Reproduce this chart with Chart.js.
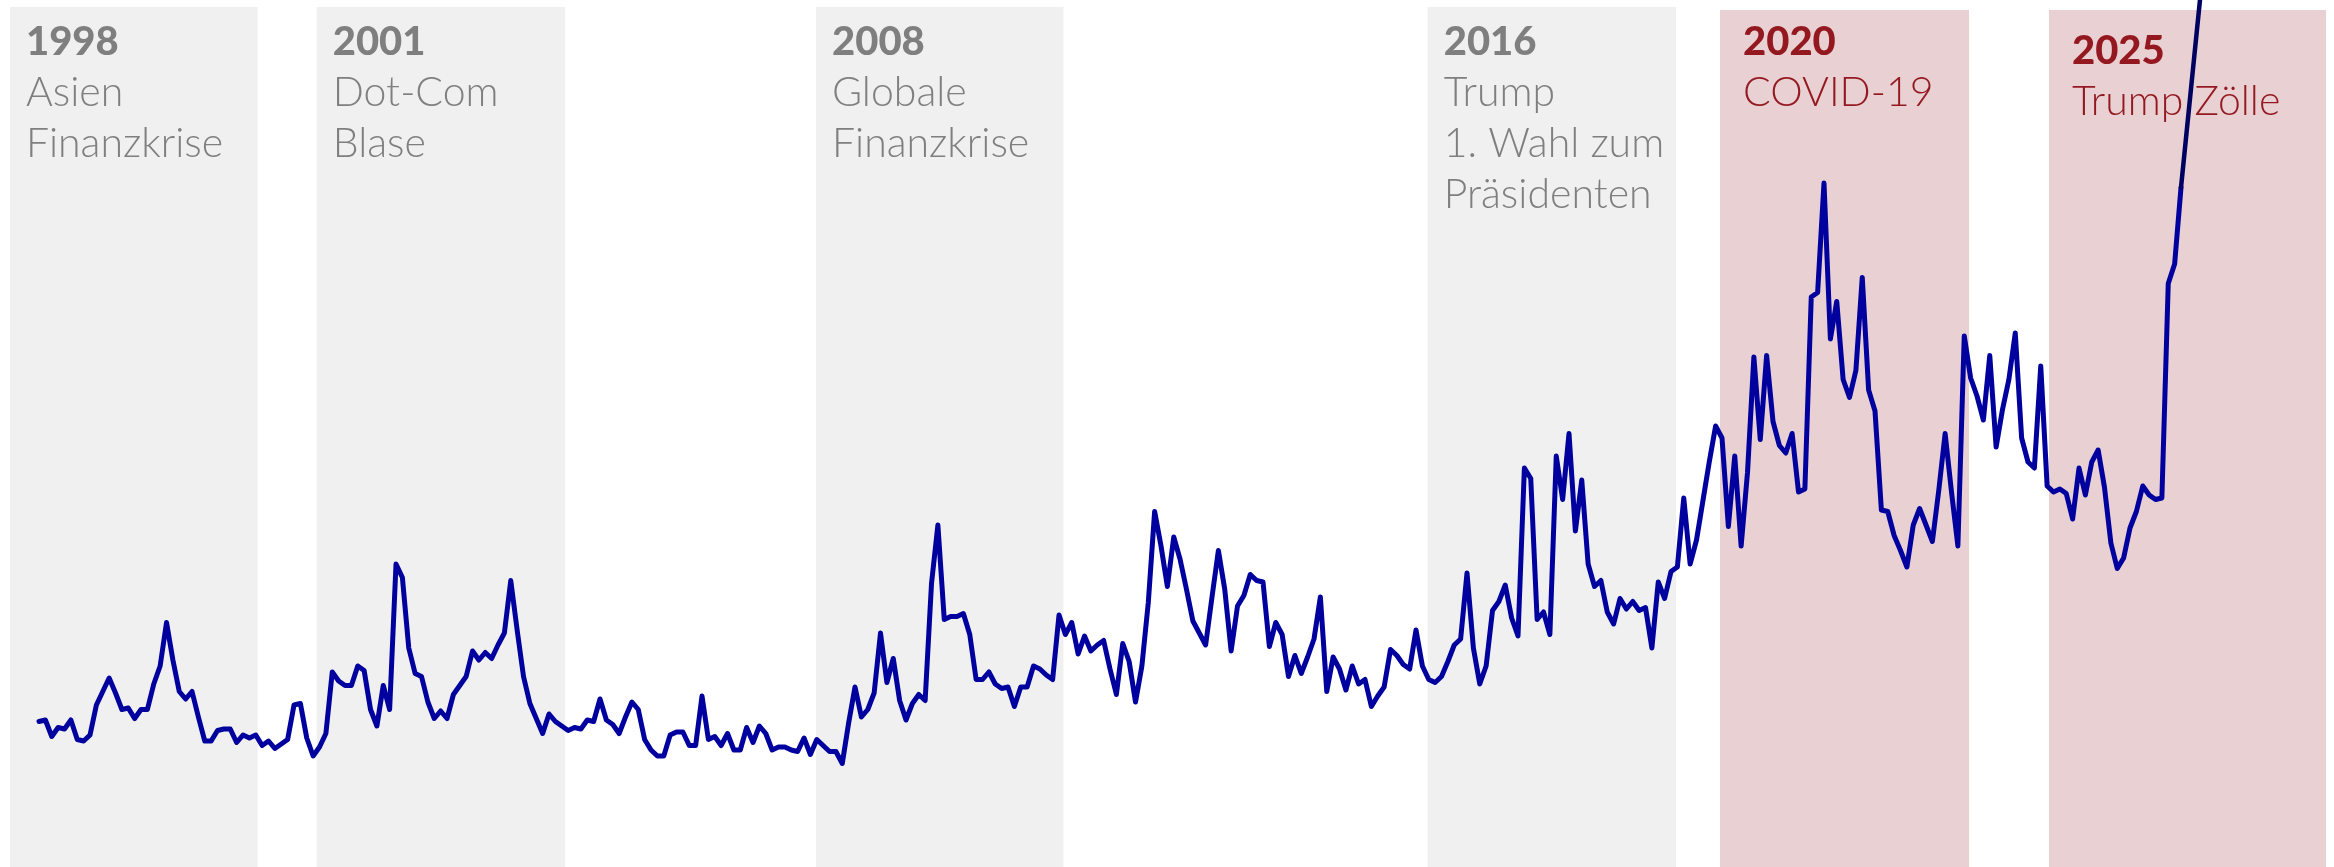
<!DOCTYPE html>
<html>
<head>
<meta charset="utf-8">
<script src="https://cdn.jsdelivr.net/npm/chart.js@4.4.1/dist/chart.umd.min.js"></script>
<style>
html,body{margin:0;padding:0;background:#ffffff;overflow:hidden}
#wrap{position:relative;width:2334px;height:867px}
</style>
</head>
<body>
<div id="wrap"><canvas id="c" width="2334" height="867"></canvas></div>
<script>
// ---- Data: monthly uncertainty index, Jan 1997 onwards ----
const startYear = 1997;
const values1997to2004 = [
  97,98,87,93,92,98,85,84,88,108,117,126,
  116,105,106,99,105,105,122,134,163,138,117,112,
  117,100,84,84,91,92,92,83,88,86,88,81,
  84,79,82,85,108,109,86,74,80,89,130,124,
  121,121,134,131,105,94,121,105,202,193,146,129,
  127,110,99,104,99,115,121,127,144,138,143,139,
  148,156,191,158,127,109,99,89,102,97,94,91,
  93,92,98,97,112,98,95,89,100,110,105,85
];
const values2005to2012 = [
  78,74,74,88,90,90,81,81,114,85,87,81,
  89,78,78,93,83,94,89,78,80,80,78,77,
  86,75,85,81,77,77,69,96,120,100,105,116,
  156,123,139,111,98,109,115,111,189,228,165,167,
  167,169,155,125,125,130,122,119,120,107,120,120,
  134,132,128,125,168,155,163,142,154,144,148,151,
  132,115,149,137,110,134,176,237,214,187,220,205,
  185,164,156,148,180,211,185,144,174,181,195,191
];
const values2013to2019 = [
  190,147,163,155,127,141,129,140,152,180,117,140,
  132,118,134,122,125,107,114,120,145,141,135,132,
  158,134,125,123,127,137,148,152,196,146,122,134,
  171,177,188,166,154,266,259,165,170,155,274,245,
  289,224,258,202,187,191,170,162,179,172,177,171,
  173,146,190,179,197,200,246,202,218,244,270,294,
  286,227,274,214,263,340,285,341,297,281,276,289
];
const values2020to2025 = [
  250,252,380,383,456,352,377,325,313,331,393,318,
  304,238,237,221,211,200,228,239,228,217,251,289,
  250,214,354,326,314,298,341,280,305,325,356,286,
  270,266,334,254,250,252,249,232,266,248,270,278,
  253,216,199,206,226,237,254,248,245,246,389,402,
  453
];
// latest jump (month offsets from Jan 1997)
const latestMonthIndex = [336, 339];
const latestValues = [453, 579];

// ---- Highlighted periods ----
const bandStart = [1996.62, 2000.63, 2007.157, 2015.153, 2018.974, 2023.274];
const bandEnd   = [1999.859, 2003.876, 2010.392, 2018.399, 2022.229, 2026.895];
const bandYears = ['1998', '2001', '2008', '2016', '2020', '2025'];
const bandTexts = [
  ['Asien', 'Finanzkrise'],
  ['Dot-Com', 'Blase'],
  ['Globale', 'Finanzkrise'],
  ['Trump', '1. Wahl zum', 'Präsidenten'],
  ['COVID-19'],
  ['Trump Zölle']
];
const bandKinds = ['past', 'past', 'past', 'past', 'recent', 'recent'];

// ---- Build chart structures ----
const allValues = values1997to2004.concat(values2005to2012, values2013to2019, values2020to2025);
const mainPoints = allValues.map((v, i) => ({ x: startYear + i / 12, y: v }));
const latestPoints = latestValues.map((v, k) => ({ x: startYear + latestMonthIndex[k] / 12, y: v }));

const STYLE = {
  past:   { fill: '#f0f0f0', text: '#7f7f7f', top: 7,  pad: 16 },
  recent: { fill: '#e8d0d3', text: '#94181f', top: 10, pad: 23 }
};
const labelShift = [0, 0, 0, 0, 0, 9];

const bandPlugin = {
  id: 'bands',
  beforeDatasetsDraw(chart) {
    const { ctx, chartArea, scales: { x } } = chart;
    ctx.save();
    bandYears.forEach((yr, k) => {
      const st = STYLE[bandKinds[k]];
      const x1 = x.getPixelForValue(bandStart[k]);
      const x2 = x.getPixelForValue(bandEnd[k]);
      ctx.fillStyle = st.fill;
      ctx.fillRect(x1, st.top, x2 - x1, chartArea.bottom - st.top);
      const tx = x1 + st.pad;
      const base = 55 + labelShift[k];
      ctx.fillStyle = st.text;
      ctx.textAlign = 'left';
      ctx.textBaseline = 'alphabetic';
      ctx.font = '900 40px Lato';
      ctx.fillText(yr, tx, base);
      ctx.font = '300 41px Lato';
      bandTexts[k].forEach((t, j) => ctx.fillText(t, tx, base + 51 * (j + 1)));
    });
    ctx.restore();
  }
};

function draw() {
  new Chart(document.getElementById('c'), {
    type: 'line',
    data: {
      datasets: [
        { data: latestPoints, borderColor: '#000060', borderWidth: 4.5, pointRadius: 0, tension: 0, borderCapStyle: 'round' },
        { data: mainPoints, borderColor: '#00009e', borderWidth: 5, pointRadius: 0, tension: 0,
          borderJoinStyle: 'round', borderCapStyle: 'round' }
      ]
    },
    options: {
      responsive: false,
      animation: false,
      events: [],
      layout: { padding: 0 },
      plugins: { legend: { display: false }, tooltip: { enabled: false } },
      scales: {
        x: { type: 'linear', min: 1996.49, max: 2027, display: false },
        y: { min: 0, max: 578, display: false }
      }
    },
    plugins: [bandPlugin]
  });
}
Promise.all([
  document.fonts.load('900 40px Lato'),
  document.fonts.load('300 41px Lato')
]).then(draw, draw);
</script>
</body>
</html>
